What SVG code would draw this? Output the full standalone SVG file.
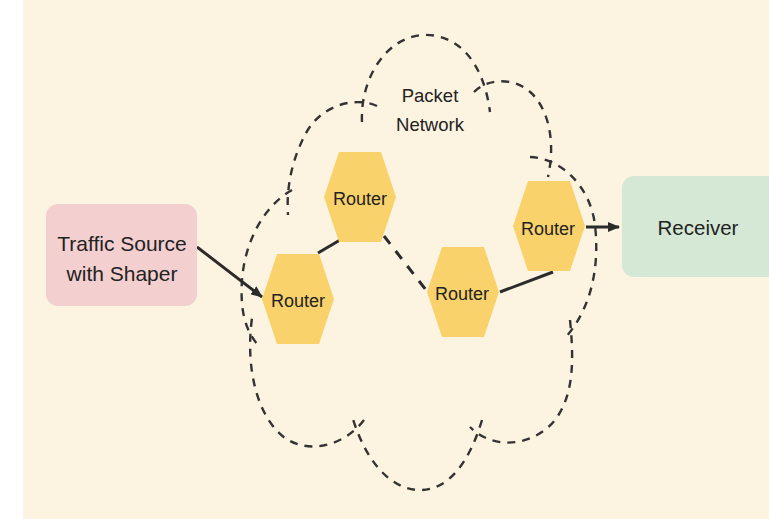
<svg xmlns="http://www.w3.org/2000/svg" width="769" height="519" viewBox="0 0 769 519">
<defs>
<style>
.bg{fill:#fdf3e1}
.txt{font-family:"Liberation Sans",Arial,sans-serif;fill:#222222;text-anchor:middle}
.hex{fill:#fad26b}
.cloud{fill:none;stroke:#333;stroke-width:2.4;stroke-dasharray:8 7;stroke-linecap:butt}
.link{fill:none;stroke:#2b2b2b;stroke-width:3}
.dlink{fill:none;stroke:#2b2b2b;stroke-width:3;stroke-dasharray:10 9}
</style>
<polygon id="hexshape" points="-21,-45 21,-45 36,0 21,45 -21,45 -36,0"/>
<marker id="arrow" viewBox="0 0 12 10" refX="11" refY="5" markerWidth="12" markerHeight="10" markerUnits="userSpaceOnUse" orient="auto">
<path d="M0,0 L12,5 L0,10 z" fill="#2b2b2b"/>
</marker>
</defs>
<rect x="0" y="0" width="769" height="519" fill="#ffffff"/>
<rect class="bg" x="23" y="0" width="746" height="519"/>

<g id="cloud">
<path class="cloud" d="M362,122 C360,80 385,38 422,35 C460,33 484,65 490,112"/>
<path class="cloud" d="M377,106 C355,96 320,105 305,135 C293,158 286,185 288,215"/>
<path class="cloud" d="M474,92 C490,76 520,78 535,97 C550,115 555,145 548,177"/>
<path class="cloud" d="M530,157 C560,158 590,185 595,225 C600,270 590,310 565,338"/>
<path class="cloud" d="M570,320 C574,360 574,395 555,420 C535,445 495,452 470,427"/>
<path class="cloud" d="M482,420 C470,460 450,490 420,490 C390,490 365,460 352,416"/>
<path class="cloud" d="M364,420 C345,445 310,455 285,438 C258,418 245,370 252,318"/>
<path class="cloud" d="M292,190 C265,205 245,240 242,280 C240,310 245,330 258,345"/>
<text class="txt" x="430" y="102" font-size="18.5">Packet</text>
<text class="txt" x="430" y="131" font-size="18.5">Network</text>
</g>

<g id="connectors">
<line class="link" x1="197" y1="247" x2="262" y2="297" marker-end="url(#arrow)"/>
<line class="link" x1="318" y1="253" x2="340" y2="240"/>
<line class="dlink" x1="384" y1="236" x2="426" y2="290"/>
<line class="link" x1="500" y1="292" x2="553" y2="272"/>
<line class="link" x1="586" y1="227" x2="619" y2="227" marker-end="url(#arrow)"/>
</g>

<g id="source">
<rect x="46" y="204" width="151" height="102" rx="12" fill="#f3cfd0"/>
<text class="txt" x="122" y="251" font-size="21">Traffic Source</text>
<text class="txt" x="122" y="281" font-size="21">with Shaper</text>
</g>

<g id="receiver">
<rect x="622" y="176" width="160" height="101" rx="12" fill="#d5e8d5"/>
<text class="txt" x="698" y="235" font-size="20.5">Receiver</text>
</g>

<g id="router1">
<use href="#hexshape" class="hex" x="298" y="299"/>
<text class="txt" x="298" y="307" font-size="18">Router</text>
</g>
<g id="router2">
<use href="#hexshape" class="hex" x="360" y="197"/>
<text class="txt" x="360" y="205" font-size="18">Router</text>
</g>
<g id="router3">
<use href="#hexshape" class="hex" x="463" y="292"/>
<text class="txt" x="462" y="300" font-size="18">Router</text>
</g>
<g id="router4">
<use href="#hexshape" class="hex" x="549" y="226"/>
<text class="txt" x="548" y="235" font-size="18">Router</text>
</g>
</svg>
